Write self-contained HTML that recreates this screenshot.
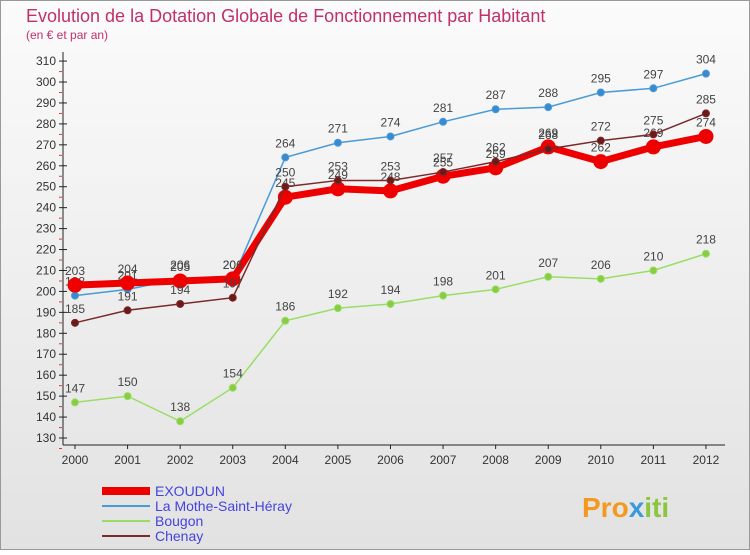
<!DOCTYPE html>
<html><head><meta charset="utf-8"><style>
body{margin:0;width:750px;height:550px;overflow:hidden;font-family:"Liberation Sans",sans-serif}
</style></head><body>
<svg width="750" height="550" xmlns="http://www.w3.org/2000/svg" id="svg">
<defs><linearGradient id="bg" x1="0" y1="0" x2="0" y2="1"><stop offset="0" stop-color="#fbfbfb"/><stop offset="1" stop-color="#e2e2e2"/></linearGradient></defs>
<rect x="0.5" y="0.5" width="749" height="549" fill="url(#bg)" stroke="#999"/>
<text x="26" y="22" font-size="18" fill="#c0306a">Evolution de la Dotation Globale de Fonctionnement par Habitant</text>
<text x="26" y="39" font-size="12" fill="#c0306a">(en € et par an)</text>
<g id="axes"></g><g id="series"></g><g id="legend"></g>
<text x="582" y="517" font-size="28" font-weight="bold" fill="#f39a1e">Pro<tspan fill="#3a9ad9">x</tspan><tspan fill="#8cc63f">iti</tspan></text>
</svg>
<script>
const years=[2000,2001,2002,2003,2004,2005,2006,2007,2008,2009,2010,2011,2012];
const exoudun=[203,204,205,206,245,249,248,255,259,269,262,269,274];
const mothe=[198,201,206,206,264,271,274,281,287,288,295,297,304];
const bougon=[147,150,138,154,186,192,194,198,201,207,206,210,218];
const chenay=[185,191,194,197,250,253,253,257,262,268,272,275,285];
const yTicks=[130,140,150,160,170,180,190,200,210,220,230,240,250,260,270,280,290,300,310];
const NS="http://www.w3.org/2000/svg";
const X=i=>75+i*52.58, Y=v=>438-(v-130)*2.094;
function mk(p,t,a){const e=document.createElementNS(NS,t);for(const k in a)e.setAttribute(k,a[k]);p.appendChild(e);return e;}
const ax=document.getElementById('axes');
let l=mk(ax,'line',{x1:63,y1:52,x2:63,y2:445,stroke:'#222'});


l=mk(ax,'line',{x1:63,y1:445,x2:725,y2:445,stroke:'#222'});


yTicks.forEach(v=>{const y=Y(v);
 mk(ax,'line',{x1:59,y1:y,x2:67,y2:y,stroke:'#222'});
 mk(ax,'line',{x1:59,y1:y+10.5,x2:62,y2:y+10.5,stroke:'#e33'});
 const t=mk(ax,'text',{x:56,y:y+4,'font-size':12,'text-anchor':'end',fill:'#333'});t.textContent=v;
 
 });
years.forEach((yr,i)=>{const x=X(i);mk(ax,'line',{x1:x,y1:445,x2:x,y2:449,stroke:'#222'});
 const t=mk(ax,'text',{x:x,y:464,'font-size':12,'text-anchor':'middle',fill:'#333'});t.textContent=yr;
 
 });
const sg=document.getElementById('series');
function series(name,vals,color,w,r,dot){
 const g=mk(sg,'g',{});
 
 
 mk(g,'polyline',{points:vals.map((v,i)=>X(i)+','+Y(v)).join(' '),fill:'none',stroke:color,'stroke-width':w});
 vals.forEach((v,i)=>{const c=mk(g,'circle',{cx:X(i),cy:Y(v),r:r,fill:dot,stroke:color,'stroke-width':1});
  
  
  const t=mk(g,'text',{x:X(i),y:Y(v)-10,'font-size':12,'text-anchor':'middle',fill:'#444'});t.textContent=v;
  
  });
}
series('series-bougon',bougon,'#99dd66',1.5,3.5,'#88cc44');
series('series-mothe',mothe,'#4a9ad6',1.5,3.5,'#3a8ad0');
series('series-exoudun',exoudun,'#ee0000',7,7,'#ee0000');
series('series-chenay',chenay,'#7a2a2a',1.5,3.5,'#6a1a1a');
const lg=document.getElementById('legend');
[['EXOUDUN','#ee0000',8],['La Mothe-Saint-Héray','#4a9ad6',2],['Bougon','#99dd66',2],['Chenay','#7a2a2a',2]].forEach((d,i)=>{
 const y=491+i*15;
 const g=mk(lg,'g',{});
 
 
 mk(g,'line',{x1:102,y1:y,x2:150,y2:y,stroke:d[1],'stroke-width':d[2]});
 const t=mk(g,'text',{x:155,y:y+5,'font-size':14,fill:'#4444dd'});t.textContent=d[0];});
</script>
</body></html>
